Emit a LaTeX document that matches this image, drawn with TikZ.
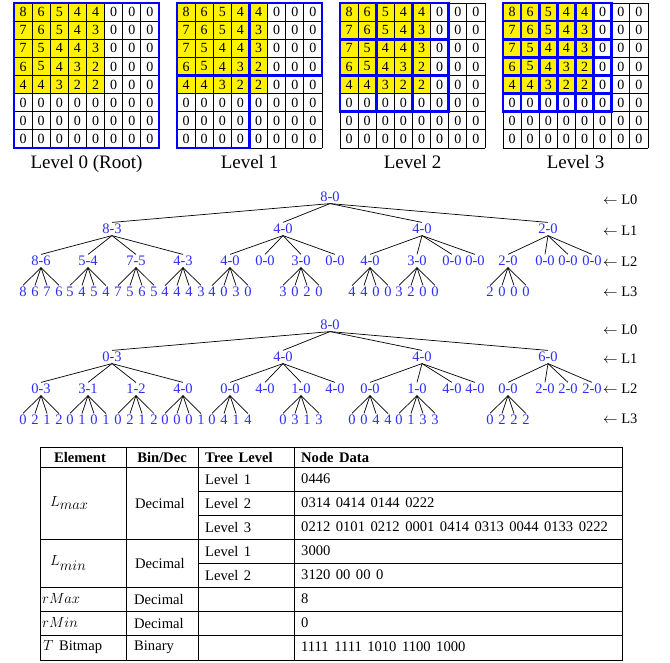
\documentclass[tikz,border=0pt]{standalone}
\usepackage{fix-cm}
\usepackage{fontspec}
\setmainfont{Liberation Serif}
\usepackage{tikz}
\usetikzlibrary{calc}
\definecolor{treeblue}{RGB}{45,45,255}
\newcommand\tabfont{\fontsize{14.6}{14.6}\selectfont\spaceskip=5.5pt\relax}
\tikzset{
	cell/.style={inner sep=0pt, font=\fontsize{14}{14}\selectfont},
	box/.style={draw=blue, line width=2.6pt},
	lvl/.style={anchor=base, font=\fontsize{19}{19}\selectfont},
	tnode/.style={text=treeblue, inner sep=1.5pt, font=\fontsize{14.5}{14.5}\selectfont},
	edge/.style={line width=0.7pt},
	lab/.style={anchor=west, inner sep=0pt, font=\fontsize{14.5}{14.5}\selectfont},
	tab/.style={anchor=west, inner sep=0pt, font=\tabfont},
	head/.style={tab, font=\tabfont\bfseries},
	tline/.style={line width=0.8pt}
}
\def\cs{18.125}

\begin{document}
\begin{tikzpicture}[x=1pt, y=-1pt]
	\useasboundingbox (0,0) rectangle (670,662);
	% the four grids
	\foreach \g in {0,...,3} {
		\begin{scope}[shift={(14+163*\g,3)}]
		\fill[yellow] (0,0) rectangle (5*\cs,5*\cs);
		\foreach \row [count=\r from 0] in {{8,6,5,4,4,0,0,0},{7,6,5,4,3,0,0,0},{7,5,4,4,3,0,0,0},{6,5,4,3,2,0,0,0},{4,4,3,2,2,0,0,0},{0,0,0,0,0,0,0,0},{0,0,0,0,0,0,0,0},{0,0,0,0,0,0,0,0}}
			\foreach \v [count=\c from 0] in \row
				\node[cell] (g\g-\r-\c) at ({(\c+0.5)*\cs},{(\r+0.5)*\cs}) {\v};
		\foreach \k in {0,...,8} {
			\draw[line width=0.8pt] (\k*\cs,0) -- (\k*\cs,8*\cs);
			\draw[line width=0.8pt] (0,\k*\cs) -- (8*\cs,\k*\cs);
		}
		\end{scope}
	}
	\draw[box] (14,3) rectangle +(8*\cs,8*\cs);
	\begin{scope}[shift={(177,3)}]
	\draw[box] (0,0) rectangle (4*\cs,4*\cs);
	\draw[box] (4*\cs,0) rectangle (8*\cs,4*\cs);
	\draw[box] (0,4*\cs) rectangle (4*\cs,8*\cs);
	\end{scope}
	\begin{scope}[shift={(340,3)}]
	\foreach \i in {0,1,2}
		\foreach \j in {0,1,2}
			\draw[box] (2*\i*\cs,2*\j*\cs) rectangle +(2*\cs,2*\cs);
	\end{scope}
	\begin{scope}[shift={(503,3)}]
	\foreach \i in {0,...,5}
		\foreach \j in {0,...,5}
			\draw[box] (\i*\cs,\j*\cs) rectangle +(\cs,\cs);
	\end{scope}
	\foreach \g/\lbl in {0/Level 0 (Root),1/Level 1,2/Level 2,3/Level 3}
		\node[lvl] (lv\g) at (86.5+163*\g,168) {\lbl};

	% max tree
	\node[tnode] (a-r) at (330,197) {8-0};
	\foreach \x/\lbl [count=\i] in {112/8-3,283/4-0,422/4-0,548/2-0} {
		\node[tnode] (a-p\i) at (\x,229) {\lbl};
		\draw[edge] (a-r.south) -- (a-p\i.north);
	}
	\foreach \x/\lbl [count=\i] in {41/8-6,88/5-4,136/7-5,183/4-3,230/4-0,265/0-0,301/3-0,335/0-0,370/4-0,417/3-0,452/0-0,475/0-0,508/2-0,545/0-0,568/0-0,592/0-0} {
		\pgfmathtruncatemacro\p{(\i+3)/4}
		\node[tnode] (a-q\i) at (\x,261) {\lbl};
		\draw[edge] (a-p\p.south) -- (a-q\i.north);
	}
	\foreach \q/\a/\b/\c/\d in {1/8/6/7/6,2/5/4/5/4,3/7/5/6/5,4/4/4/4/3,5/4/0/3/0,7/3/0/2/0,9/4/4/0/0,10/3/2/0/0,13/2/0/0/0}
		\foreach \v [count=\k] in {\a,\b,\c,\d} {
			\node[tnode] (a-q\q-\k) at ($(a-q\q)+({12*\k-30},31)$) {\v};
			\draw[edge] (a-q\q.south) -- (a-q\q-\k.north);
		}
	\foreach \y/\l in {200/0,231/1,262/2,292/3}
		\node[lab] (a-l\l) at (603,\y) {$\leftarrow$ L\l};

	% min tree
	\begin{scope}[shift={(0,128)}]
	\node[tnode] (b-r) at (330,197) {8-0};
	\foreach \x/\lbl [count=\i] in {112/0-3,283/4-0,422/4-0,548/6-0} {
		\node[tnode] (b-p\i) at (\x,229) {\lbl};
		\draw[edge] (b-r.south) -- (b-p\i.north);
	}
	\foreach \x/\lbl [count=\i] in {41/0-3,88/3-1,136/1-2,183/4-0,230/0-0,265/4-0,301/1-0,335/4-0,370/0-0,417/1-0,452/4-0,475/4-0,508/0-0,545/2-0,568/2-0,592/2-0} {
		\pgfmathtruncatemacro\p{(\i+3)/4}
		\node[tnode] (b-q\i) at (\x,261) {\lbl};
		\draw[edge] (b-p\p.south) -- (b-q\i.north);
	}
	\foreach \q/\a/\b/\c/\d in {1/0/2/1/2,2/0/1/0/1,3/0/2/1/2,4/0/0/0/1,5/0/4/1/4,7/0/3/1/3,9/0/0/4/4,10/0/1/3/3,13/0/2/2/2}
		\foreach \v [count=\k] in {\a,\b,\c,\d} {
			\node[tnode] (b-q\q-\k) at ($(b-q\q)+({12*\k-30},31)$) {\v};
			\draw[edge] (b-q\q.south) -- (b-q\q-\k.north);
		}
	\foreach \y/\l in {202/0,231/1,261/2,291/3}
		\node[lab] (b-l\l) at (603,\y) {$\leftarrow$ L\l};
	\end{scope}

	% table
	\draw[tline] (40,447) rectangle (622,660);
	\foreach \y in {467,539,587,611,635}
		\draw[tline] (40,\y) -- (622,\y);
	\foreach \y in {491,515,563}
		\draw[tline] (198,\y) -- (622,\y);
	\foreach \x in {126,198,294}
		\draw[tline] (\x,447) -- (\x,660);
	\node[head, anchor=center] (h1) at (80,457) {Element};
	\node[head, anchor=center] (h2) at (162,457) {Bin/Dec};
	\node[head] (h3) at (205,457) {Tree Level};
	\node[head] (h4) at (301,457) {Node Data};
	\node[tab] (e1) at (50,503) {$L_{\textstyle max}$};
	\node[tab] (d1) at (135,503) {Decimal};
	\node[tab] (e2) at (50,563) {$L_{\textstyle min}$};
	\node[tab] (d2) at (135,563) {Decimal};
	\node[tab] (e3) at (42,599) {$rMax$};
	\node[tab] (d3) at (134,599) {Decimal};
	\node[tab] (e4) at (42,623) {$rMin$};
	\node[tab] (d4) at (134,623) {Decimal};
	\node[tab] (e5) at (43,647) {$T$ Bitmap};
	\node[tab] (d5) at (134,647) {Binary};
	\foreach \y/\lbl [count=\i] in {479/1,503/2,527/3,551/1,575/2}
		\node[tab] (t\i) at (205,\y) {Level \lbl};
	\foreach \y/\dat [count=\i] in {479/0446,503/0314 0414 0144 0222,527/0212 0101 0212 0001 0414 0313 0044 0133 0222,551/3000,575/3120 00 00 0,599/8,623/0,647/1111 1111 1010 1100 1000}
		\node[tab] (n\i) at (301,\y) {\dat};
\end{tikzpicture}
\end{document}
